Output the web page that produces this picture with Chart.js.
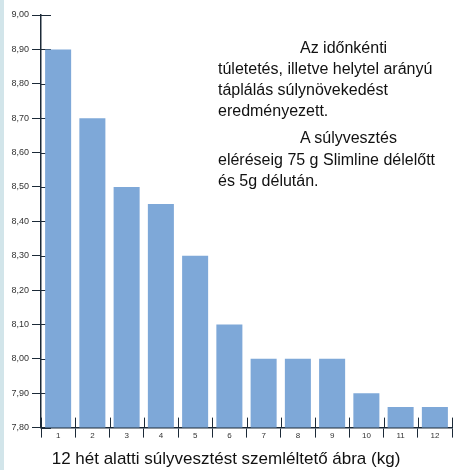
<!DOCTYPE html>
<html>
<head>
<meta charset="utf-8">
<script src="https://cdn.jsdelivr.net/npm/chart.js@4"></script>
<style>
  html, body { margin: 0; padding: 0; background: #fff; }
  #wrap { position: relative; width: 456px; height: 470px; }
  #strip { position: absolute; left: 0; top: 0; width: 4px; height: 470px; background: #d2e5ea; }
  .ln { position: absolute; left: 218px; font: 16px "Liberation Sans", Arial, sans-serif; color: #111; line-height: 20px; white-space: nowrap; }
  .ind { left: 300px; }
</style>
</head>
<body>
<div id="wrap">
  <canvas class="myChart" width="456" height="470"></canvas>
  <div id="strip"></div>
  <div class="ln ind" style="top:38px">Az időnkénti</div>
  <div class="ln" style="top:59px">túletetés, illetve helytel arányú</div>
  <div class="ln" style="top:80px">táplálás súlynövekedést</div>
  <div class="ln" style="top:101px">eredményezett.</div>
  <div class="ln ind" style="top:128px">A súlyvesztés</div>
  <div class="ln" style="top:150px">eléréseig 75 g Slimline délelőtt</div>
  <div class="ln" style="top:171px">és 5g délután.</div>
</div>
<script>
const weeks = ["1","2","3","4","5","6","7","8","9","10","11","12"];
const weights = [8.90, 8.70, 8.50, 8.45, 8.30, 8.10, 8.00, 8.00, 8.00, 7.90, 7.86, 7.86];
const yTicks = [7.8, 7.9, 8.0, 8.1, 8.2, 8.3, 8.4, 8.5, 8.6, 8.7, 8.8, 8.9, 9.0];
const chartTitle = "12 hét alatti súlyvesztést szemléltető ábra (kg)";

const axisColor = "#1c2a38";

// ticks that cross the axis lines (inner half, drawn before the bars)
const innerTicks = {
  id: "innerTicks",
  beforeDatasetsDraw(chart) {
    const ctx = chart.ctx;
    const x = chart.scales.x, y = chart.scales.y;
    ctx.save();
    ctx.strokeStyle = axisColor;
    ctx.lineWidth = 1;
    ctx.beginPath();
    yTicks.forEach(v => {
      const py = Math.round(y.getPixelForValue(v)) + 0.5;
      ctx.moveTo(y.right, py);
      ctx.lineTo(y.right + 10, py);
    });
    const w = x.getPixelForValue(1) - x.getPixelForValue(0);
    for (let i = 0; i <= weeks.length; i++) {
      const px = Math.round(x.getPixelForValue(i) - w / 2) + 0.5;
      ctx.moveTo(px, x.top);
      ctx.lineTo(px, x.top - 10);
    }
    ctx.stroke();
    ctx.restore();
  }
};

new Chart(document.querySelector(".myChart"), {
  type: "bar",
  data: {
    labels: weeks,
    datasets: [{
      data: weights,
      backgroundColor: "#7ea8d8",
      borderWidth: 0,
      categoryPercentage: 0.76,
      barPercentage: 1
    }]
  },
  options: {
    responsive: false,
    animation: false,
    layout: { padding: { left: 0, right: 4, top: 15, bottom: 0 } },
    plugins: {
      legend: { display: false },
      tooltip: { enabled: false },
      title: {
        display: true,
        position: "bottom",
        text: chartTitle,
        color: "#111",
        font: { family: "'Liberation Sans', Arial, sans-serif", size: 17, weight: "normal" },
        padding: { top: 5, bottom: 0 }
      }
    },
    scales: {
      x: {
        offset: true,
        grid: { display: true, drawOnChartArea: false, offset: true, color: axisColor, tickLength: 10, tickColor: axisColor },
        border: { color: axisColor, width: 1.5 },
        ticks: { color: "#333", padding: -7, font: { family: "'Liberation Sans', Arial, sans-serif", size: 8 } },
        afterFit(s) { s.height = 17; }
      },
      y: {
        min: 7.8,
        max: 9.0,
        grid: { display: true, drawOnChartArea: false, color: axisColor, tickLength: 9, tickColor: axisColor },
        border: { color: axisColor, width: 1.5 },
        afterBuildTicks(s) { s.ticks = yTicks.map(v => ({ value: v })); },
        ticks: {
          color: "#333",
          padding: 3,
          font: { family: "'Liberation Sans', Arial, sans-serif", size: 9 },
          callback: v => v.toFixed(2).replace(".", ",")
        },
        afterFit(s) { s.width = 41; }
      }
    }
  },
  plugins: [innerTicks]
});
</script>
</body>
</html>
